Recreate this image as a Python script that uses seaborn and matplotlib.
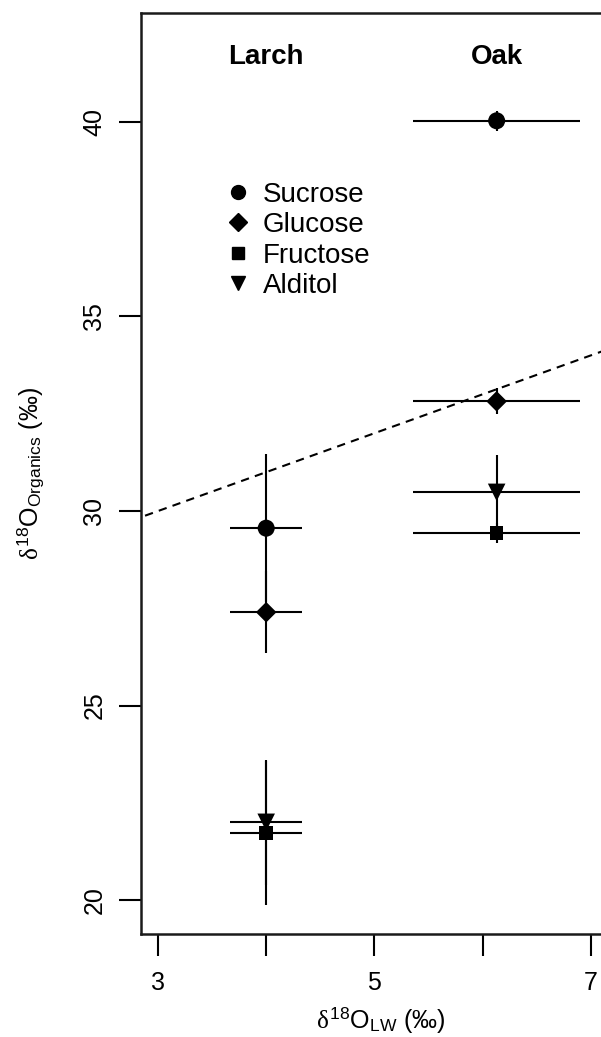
import numpy as np
import pandas as pd
import matplotlib
matplotlib.use("Agg")
import matplotlib.pyplot as plt
import seaborn as sns


#Values
sugars = ["Sucrose", "Glucose", "Fructose", "Alditol"]
markers = ["o", "D", "s", "v"]
marker_sizes = [150, 110, 95, 160]

larch_x = 4.0
larch_x_err = 0.33
larch_y = [29.56, 27.40, 21.72, 22.00]
larch_y_err = [1.90, 1.05, 1.85, 1.60]

oak_x = 6.13
oak_x_err = 0.77
oak_y = [40.03, 32.82, 29.43, 30.48]
oak_y_err = [0.25, 0.33, 0.25, 0.95]

line_x = [2.5, 7.5]
line_offset = 27.0

x_ticks = [3, 4, 5, 6, 7]
x_tick_labels = ["3", "", "5", "", "7"]
y_ticks = [20, 25, 30, 35, 40]


sns.set_style("ticks")
plt.rcParams["font.family"] = ["Liberation Sans", "DejaVu Sans"]
plt.rcParams["mathtext.fontset"] = "custom"
plt.rcParams["mathtext.rm"] = "Liberation Sans"
plt.rcParams["mathtext.it"] = "Liberation Serif"
plt.rcParams["mathtext.bf"] = "Liberation Sans:bold"
plt.rcParams["text.color"] = "black"
plt.rcParams["axes.labelcolor"] = "black"
plt.rcParams["xtick.color"] = "black"
plt.rcParams["ytick.color"] = "black"


#Building one table for both tree species
organics = pd.DataFrame({
    "sugar": sugars * 2,
    "species": ["Larch"] * 4 + ["Oak"] * 4,
    "lw": [larch_x] * 4 + [oak_x] * 4,
    "lw_err": [larch_x_err] * 4 + [oak_x_err] * 4,
    "organics": larch_y + oak_y,
    "organics_err": larch_y_err + oak_y_err,
})


fig = plt.figure(figsize=(6.01, 10.37), dpi=100)
ax = fig.add_axes([141 / 601, 103 / 1037, 479 / 601, 921 / 1037])

ax.errorbar(organics["lw"], organics["organics"],
    xerr=organics["lw_err"], yerr=organics["organics_err"],
    fmt="none", ecolor="black", elinewidth=1.5, capsize=0, zorder=2)

sns.scatterplot(data=organics, x="lw", y="organics", style="sugar",
    markers=dict(zip(sugars, markers)), color="black", s=150,
    edgecolor="black", linewidth=0, legend=False, ax=ax, zorder=3)
#Resizing markers per shape so they look alike in size
for coll in ax.collections:
    if hasattr(coll, "get_offsets") and len(coll.get_offsets()) == 8:
        coll.set_sizes([marker_sizes[sugars.index(s)] for s in organics["sugar"]])

ax.plot(line_x, [x + line_offset for x in line_x], color="black",
    linestyle=(0, (4, 3)), linewidth=1.5, zorder=1)

ax.set_xlim(2.843, 7.27)
ax.set_ylim(19.13, 42.8)
ax.set_xticks(x_ticks)
ax.set_xticklabels(x_tick_labels)
ax.set_yticks(y_ticks)
ax.set_yticklabels([str(t) for t in y_ticks], rotation=90, va="center")
ax.tick_params(axis="both", length=16, width=1.5, color="black",
    labelsize=18, labelcolor="black", direction="out")
ax.tick_params(axis="x", pad=11)
ax.tick_params(axis="y", pad=9)

for spine in ax.spines.values():
    spine.set_linewidth(1.8)
    spine.set_color("#1a1a1a")

ax.set_xlabel(r"$\delta^{18}\mathrm{O}_{\mathrm{LW}}$ (‰)", fontsize=18,
    labelpad=7)
ax.set_ylabel(r"$\delta^{18}\mathrm{O}_{\mathrm{Organics}}$ (‰)", fontsize=18)
ax.yaxis.set_label_coords(-0.196, 0.5)

ax.text(larch_x, 41.68, "Larch", ha="center", va="center", fontsize=20,
    fontweight="bold")
ax.text(oak_x, 41.68, "Oak", ha="center", va="center", fontsize=20,
    fontweight="bold")

#Legend without a frame, drawn with black markers
handles = [plt.Line2D([], [], marker=m, color="black", linestyle="none",
    markersize=ms) for m, ms in zip(markers, [10, 9, 8, 10.5])]
ax.legend(handles, sugars, loc="upper left", bbox_to_anchor=(0.15, 0.832),
    frameon=False, fontsize=20, handlelength=0.8, handletextpad=0.5,
    labelspacing=0.16, borderpad=0)

fig.savefig("out.png", dpi=100)
